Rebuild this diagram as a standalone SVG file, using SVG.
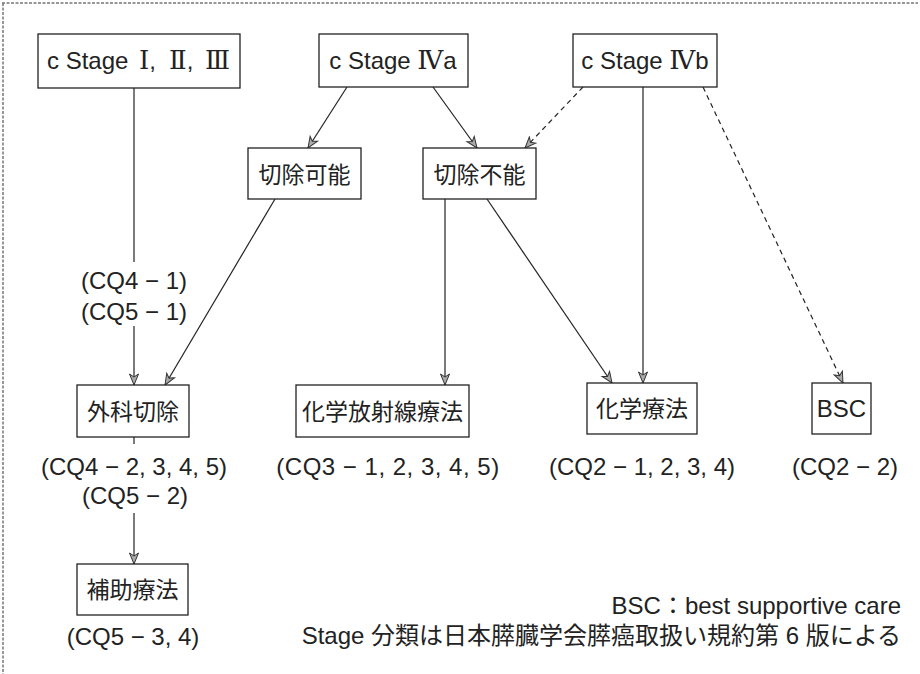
<svg xmlns="http://www.w3.org/2000/svg" width="920" height="674" viewBox="0 0 920 674">
<style>
.box{fill:#fff;stroke:#222;stroke-width:1.3}
.t{font-family:"Liberation Sans","Noto Sans CJK JP",sans-serif;font-size:24px;fill:#222;text-anchor:middle}
.j{font-family:"Noto Sans CJK JP",sans-serif;font-size:23px;fill:#222;text-anchor:middle}
.rn{font-family:"DejaVu Serif","Liberation Serif","Noto Sans CJK JP",serif}
.s{text-anchor:start}
.r{text-anchor:end}
.ln{stroke:#222;stroke-width:1.2;fill:none}
.dash{stroke-dasharray:5 4}
.frame{stroke:#777;stroke-width:1.5;stroke-dasharray:3 1.5;fill:none}
</style>
<defs>
<marker id="ah" markerUnits="userSpaceOnUse" markerWidth="14" markerHeight="12" refX="12" refY="6" orient="auto">
<path d="M1,1.5 L12,6 L1,10.5 L4,6 Z" fill="#aaa" stroke="#333" stroke-width="1"/>
</marker>
</defs>
<rect width="920" height="674" fill="#fff"/>
<path class="frame" d="M2,3 H918 M3,3 V674"/>

<g id="connectors">
<line class="ln" x1="134" y1="88" x2="134" y2="262"/>
<line class="ln" x1="134" y1="326" x2="134" y2="385" marker-end="url(#ah)"/>
<line class="ln" x1="347" y1="87" x2="308" y2="148" marker-end="url(#ah)"/>
<line class="ln" x1="433" y1="87" x2="477" y2="148" marker-end="url(#ah)"/>
<line class="ln dash" x1="583" y1="87" x2="525" y2="148" marker-end="url(#ah)"/>
<line class="ln" x1="643" y1="87" x2="643" y2="383" marker-end="url(#ah)"/>
<line class="ln dash" x1="703" y1="87" x2="843" y2="383" marker-end="url(#ah)"/>
<line class="ln" x1="275" y1="199" x2="165" y2="385" marker-end="url(#ah)"/>
<line class="ln" x1="445" y1="199" x2="445" y2="385" marker-end="url(#ah)"/>
<line class="ln" x1="487" y1="199" x2="612" y2="383" marker-end="url(#ah)"/>
<line class="ln" x1="134" y1="437" x2="134" y2="444"/>
<line class="ln" x1="134" y1="513" x2="134" y2="564" marker-end="url(#ah)"/>
</g>

<g id="n_stage123">
<rect class="box" x="38" y="34" width="202" height="54"/>
<text class="t s" x="47" y="69">c Stage<tspan class="rn" x="139" font-size="26">Ⅰ</tspan>,<tspan class="rn" x="169" font-size="26">Ⅱ</tspan>,<tspan class="rn" x="205" font-size="26">Ⅲ</tspan></text>
<text class="t" x="134" y="289">(CQ4 − 1)</text>
<text class="t" x="134" y="320">(CQ5 − 1)</text>
</g>
<g id="n_stage4a">
<rect class="box" x="319" y="34" width="149" height="53"/>
<text class="t" x="393" y="69">c Stage <tspan class="rn" font-size="26">Ⅳ</tspan>a</text>
</g>
<g id="n_stage4b">
<rect class="box" x="573" y="34" width="144" height="53"/>
<text class="t" x="645" y="69">c Stage <tspan class="rn" font-size="26">Ⅳ</tspan>b</text>
</g>
<g id="n_resectable">
<rect class="box" x="248" y="148" width="113" height="51"/>
<text class="j" x="304.5" y="182.5">切除可能</text>
</g>
<g id="n_unresectable">
<rect class="box" x="423" y="148" width="113" height="51"/>
<text class="j" x="479.5" y="182.5">切除不能</text>
</g>
<g id="n_surgery">
<rect class="box" x="77" y="385" width="112" height="52"/>
<text class="j" x="133" y="419.5">外科切除</text>
<text class="t" x="134" y="475">(CQ4 − 2, 3, 4, 5)</text>
<text class="t" x="135" y="504">(CQ5 − 2)</text>
</g>
<g id="n_crt">
<rect class="box" x="296" y="385" width="173" height="52"/>
<text class="j" x="382.5" y="419.5">化学放射線療法</text>
<text class="t" x="388" y="475" letter-spacing="0.5">(CQ3 − 1, 2, 3, 4, 5)</text>
</g>
<g id="n_chemo">
<rect class="box" x="587" y="383" width="110" height="51"/>
<text class="j" x="642" y="417">化学療法</text>
<text class="t" x="642" y="475">(CQ2 − 1, 2, 3, 4)</text>
</g>
<g id="n_bsc">
<rect class="box" x="812" y="383" width="59" height="51"/>
<text class="t" x="841.5" y="417">BSC</text>
<text class="t" x="845" y="475">(CQ2 − 2)</text>
</g>
<g id="n_adjuvant">
<rect class="box" x="77" y="564" width="111" height="51"/>
<text class="j" x="132.5" y="598">補助療法</text>
<text class="t" x="133" y="645">(CQ5 − 3, 4)</text>
</g>

<g id="notes">
<text class="t r" x="901" y="614">BSC：best supportive care</text>
<text class="t r" x="901" y="644">Stage 分類は日本膵臓学会膵癌取扱い規約第 6 版による</text>
</g>
</svg>
